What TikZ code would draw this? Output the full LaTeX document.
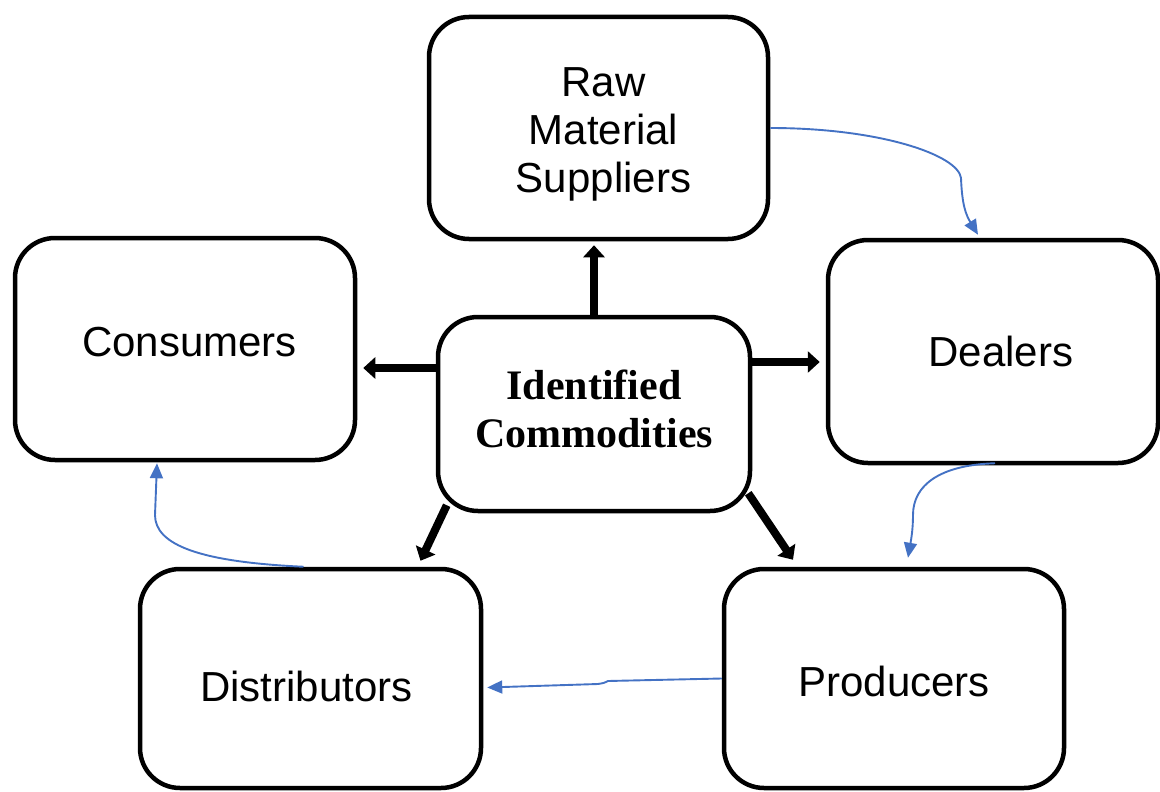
\documentclass[tikz,border=0pt]{standalone}
\usepackage{fontspec}
\setmainfont{Liberation Sans}
\newfontfamily\serifb{Liberation Serif}
\usetikzlibrary{arrows.meta}
\definecolor{linkblue}{HTML}{4472C4}
\begin{document}
\begin{tikzpicture}[x=1pt,y=-1pt,
  box/.style={draw,line width=4.5pt,rounded corners=40pt,minimum width=339pt,minimum height=222pt,
    align=center,inner sep=0pt,font=\fontsize{42}{48}\selectfont},
  bigarrow/.style={line width=8pt,-{Triangle[length=12pt,width=21pt]}},
  link/.style={draw=linkblue,line width=1.9pt,-{Triangle[length=15pt,width=13pt]}}]
\useasboundingbox (0,0) rectangle (1160,792);

\node[box] (raw) at (598.5,128) {\hspace*{10pt}\rule{0pt}{42pt}Raw\\\hspace*{10pt}Material\\\hspace*{10pt}Suppliers};
\node[box,minimum width=340pt,text depth=14pt] (cons) at (185,349) {\hspace*{9pt}Consumers};
\node[box,minimum width=312pt,minimum height=194pt,font=\fontsize{42}{48}\selectfont\serifb\bfseries] (comm) at (594,414) {Identified\\Commodities\rule[-10pt]{0pt}{1pt}};
\node[box,minimum width=330pt,minimum height=223pt] (deal) at (993,351.5) {\hspace*{16pt}Dealers};
\node[box,minimum width=341pt,minimum height=219pt,text height=46pt] (dist) at (310.5,678.5) {Distributors\hspace*{8pt}};
\node[box,minimum width=340pt,minimum height=219pt,text height=36pt] (prod) at (894,678.5) {Producers};

% thick black arrows
\draw[bigarrow] (comm.north) -- ([yshift=-4pt]comm.north |- raw.south);
\coordinate (lstart) at ([yshift=46pt]comm.west);
\draw[bigarrow] (lstart) -- ([xshift=6pt]lstart -| cons.east);
\coordinate (rstart) at ([yshift=52pt]comm.east);
\draw[bigarrow] (rstart) -- ([xshift=-6pt]rstart -| deal.west);
\draw[bigarrow] ([shift={(11,-8)}]comm.south west) -- ([xshift=110pt,yshift=6pt]dist.north);
\draw[bigarrow] ([shift={(-4,-20)}]comm.south east) -- ([xshift=-101pt,yshift=7pt]prod.north);

% blue connectors
\coordinate (t1) at ([xshift=-15pt,yshift=3pt]deal.north);
\draw[link] (raw.east) .. controls (880,128) and (958,155) .. (961,178)
  .. controls (962,205) and (966,215) .. (t1);
\coordinate (s2) at ([xshift=2pt,yshift=2pt]deal.south);
\coordinate (t2) at ([xshift=14pt,yshift=9pt]prod.north);
\draw[link] (s2) .. controls (940,465) and (913,485) .. (913,515)
  .. controls (913,530) and (911,540) .. (t2);
\coordinate (t3) at ([xshift=4pt,yshift=-9pt]dist.east);
\draw[link] (prod.west) -- (608,681) .. controls (604,683) .. (598,684) -- (t3);
\coordinate (s4) at ([xshift=-7pt]dist.north);
\coordinate (t4) at ([xshift=-28pt,yshift=-1pt]cons.south);
\draw[link] (s4) .. controls (200,562) and (155,545) .. (155,515) -- (t4);
\end{tikzpicture}
\end{document}
